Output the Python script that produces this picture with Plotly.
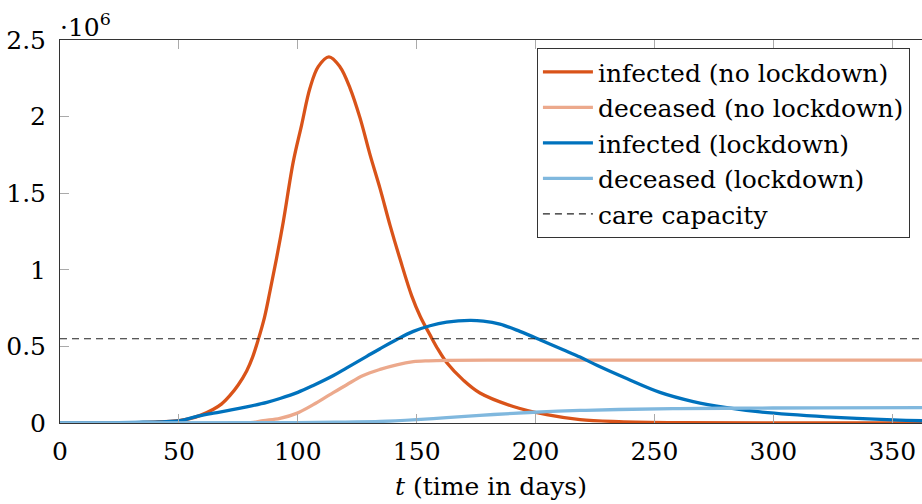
import plotly.graph_objects as go

# ---- data (values in millions of people) ----
days_inf_nolock = [0, 20, 40, 50, 55, 59, 64.5, 68, 71.5, 75, 78.5, 81, 83.4, 86, 88.3, 91, 93.9, 98.1,
                   101.6, 105.1, 108.6, 113.1, 117.7, 122, 126.2, 130.4, 134.6, 138.8, 143, 147.9, 151.5,
                   155.6, 159, 162.6, 169.6, 176.6, 190.6, 204.7, 218.7, 235, 260, 300, 365]
inf_nolock = [0, 0.001, 0.006, 0.015, 0.03, 0.05, 0.09, 0.125, 0.18, 0.25, 0.34, 0.43, 0.546, 0.69, 0.86,
              1.07, 1.314, 1.706, 1.945, 2.185, 2.326, 2.39, 2.326, 2.185, 1.99, 1.75, 1.53, 1.29, 1.07,
              0.83, 0.695, 0.575, 0.48, 0.395, 0.28, 0.196, 0.108, 0.054, 0.022, 0.009, 0.002, 0.0, 0.0]

days_dec_nolock = [0, 80, 85.5, 92.5, 99.5, 106.5, 113.5, 120.6, 127.5, 134.6, 141.6, 148.6, 155, 162.6,
                   180, 250, 365]
dec_nolock = [0, 0.002, 0.015, 0.03, 0.063, 0.12, 0.185, 0.25, 0.31, 0.35, 0.38, 0.40, 0.406, 0.409,
              0.41, 0.411, 0.411]

days_inf_lock = [0, 20, 35, 50.5, 58, 64.5, 72, 78.5, 87, 92.5, 100, 106.5, 115, 120.6, 129, 134.6, 141.6,
                 148.6, 155.6, 162.6, 172.4, 178, 185, 193.4, 201.8, 211.6, 218.7, 226, 238.3, 252.3,
                 266.3, 280.4, 294.4, 322.4, 350.4, 365]
inf_lock = [0, 0.001, 0.005, 0.015, 0.045, 0.065, 0.085, 0.105, 0.135, 0.16, 0.2, 0.245, 0.31, 0.36, 0.435,
            0.485, 0.545, 0.598, 0.635, 0.658, 0.67, 0.665, 0.645, 0.598, 0.544, 0.478, 0.43, 0.375, 0.29,
            0.2, 0.14, 0.1, 0.072, 0.04, 0.02, 0.014]

days_dec_lock = [0, 100, 120, 134.6, 150, 162.6, 176.6, 190.6, 204.7, 218.7, 235, 260, 290, 320, 365]
dec_lock = [0, 0.002, 0.006, 0.01, 0.022, 0.035, 0.05, 0.063, 0.074, 0.082, 0.088, 0.094, 0.097, 0.099, 0.1]

care_days = [0, 365]
care_capacity = [0.55, 0.55]

x_ticks = [0, 50, 100, 150, 200, 250, 300, 350]
y_ticks = [0, 0.5, 1, 1.5, 2, 2.5]
y_tick_labels = ["0", "0.5", "1", "1.5", "2", "2.5"]

series = [
    ("infected (no lockdown)", days_inf_nolock, inf_nolock, "#D95319"),
    ("deceased (no lockdown)", days_dec_nolock, dec_nolock, "#ECA98C"),
    ("infected (lockdown)", days_inf_lock, inf_lock, "#0072BD"),
    ("deceased (lockdown)", days_dec_lock, dec_lock, "#80B8DE"),
]

FONT = "DejaVu Serif"
fig = go.Figure()
for name, xs, ys, col in series:
    fig.add_trace(go.Scatter(x=xs, y=ys, mode="lines", name=name,
                             line=dict(color=col, width=3.3, shape="spline", smoothing=1.0)))
fig.add_trace(go.Scatter(x=care_days, y=care_capacity, mode="lines", name="care capacity",
                         line=dict(color="#222222", width=1.2, dash="7px,5px")))

fig.update_layout(
    width=922, height=504,
    margin=dict(l=60, r=0, t=40, b=81),
    paper_bgcolor="white", plot_bgcolor="white",
    font=dict(family=FONT, size=25, color="black"),
    showlegend=True,
    legend=dict(x=0.986, y=0.979, xanchor="right", yanchor="top", itemwidth=50,
                bgcolor="white", bordercolor="#333333", borderwidth=1,
                font=dict(family=FONT, size=25, color="black")),
    xaxis=dict(range=[0, 362.5], tickvals=x_ticks, showline=True, linecolor="#333333", linewidth=1,
               mirror="ticks", ticks="inside", ticklen=9, tickcolor="#aaaaaa", tickwidth=1,
               showgrid=False, zeroline=False, ticklabelstandoff=6, automargin=False,
               tickfont=dict(family=FONT, size=25),
               title=dict(text="<i>t</i> (time in days)", standoff=12, font=dict(family=FONT, size=25))),
    yaxis=dict(range=[0, 2.5], tickvals=y_ticks, ticktext=y_tick_labels, showline=True,
               linecolor="#333333", linewidth=1, ticks="inside", ticklen=9, tickcolor="#aaaaaa",
               tickwidth=1, showgrid=False, zeroline=False, ticklabelstandoff=8, automargin=False,
               tickfont=dict(family=FONT, size=25)),
    annotations=[dict(text="·10<sup>6</sup>", x=0, y=1, xref="paper", yref="paper",
                      xanchor="left", yanchor="bottom", showarrow=False, xshift=-2, yshift=-4,
                      font=dict(family=FONT, size=25))],
)

fig.write_html("out.html", config={"displayModeBar": False},
               post_script="document.body.style.margin='0';document.body.style.overflow='hidden';")
